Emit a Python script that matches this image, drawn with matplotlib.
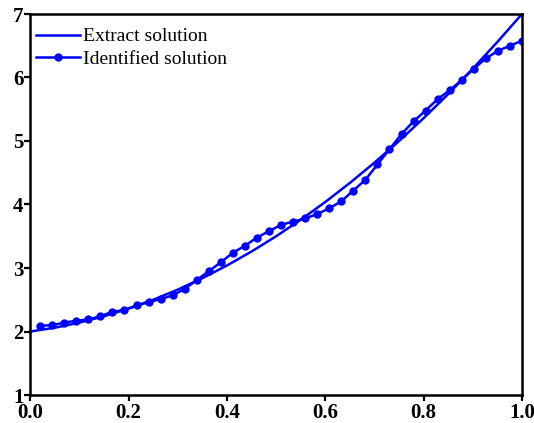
import matplotlib
matplotlib.use("Agg")
import matplotlib.pyplot as plt
import numpy as np

# exact solution, read at 0.05 steps
x_exact = [0.00, 0.05, 0.10, 0.15, 0.20, 0.25, 0.30, 0.35, 0.40, 0.45, 0.50,
           0.55, 0.60, 0.65, 0.70, 0.75, 0.80, 0.85, 0.90, 0.95, 1.00]
y_exact = [2.00, 2.06, 2.14, 2.24, 2.36, 2.50, 2.66, 2.84, 3.04, 3.26, 3.50,
           3.76, 4.04, 4.34, 4.66, 5.00, 5.36, 5.74, 6.14, 6.56, 7.00]

# identified solution, 41 markers from 0.02 to 1.0
x_ident = np.linspace(0.02, 1.0, 41)
y_ident = [2.09, 2.10, 2.14, 2.17, 2.19, 2.24, 2.31, 2.34, 2.41, 2.46,
           2.51, 2.57, 2.67, 2.81, 2.95, 3.09, 3.24, 3.35, 3.48, 3.58,
           3.68, 3.73, 3.78, 3.85, 3.94, 4.05, 4.22, 4.39, 4.63, 4.87,
           5.11, 5.31, 5.48, 5.66, 5.80, 5.96, 6.14, 6.30, 6.42, 6.50, 6.58]

x_ticks = [0.0, 0.2, 0.4, 0.6, 0.8, 1.0]
y_ticks = [1, 2, 3, 4, 5, 6, 7]

plt.rcParams["font.family"] = ["Liberation Serif", "DejaVu Serif"]

fig = plt.figure(figsize=(5.34, 4.23), dpi=100)
ax = fig.add_axes([30.3/534, 1-395/423, (522-30.3)/534, (395-14)/423])

ax.plot(x_exact, y_exact, color="#0000ff", lw=1.8, label="Extract solution")
ax.plot(x_ident, y_ident, color="#0000ff", lw=1.8, marker="o", ms=5,
        mec="#0000ff", mfc="#0000ff", label="Identified solution")

ax.set_xlim(0, 1); ax.set_ylim(1, 7)
ax.set_xticks(x_ticks); ax.set_yticks(y_ticks)
ax.set_xticklabels(["%.1f" % v for v in x_ticks])
ax.set_yticklabels([str(v) for v in y_ticks])
for lab in ax.get_xticklabels() + ax.get_yticklabels():
    lab.set_fontweight("bold"); lab.set_fontsize(15)
ax.tick_params(direction="out", length=4, width=1.6, top=False, right=False)
ax.tick_params(axis="x", pad=2)
ax.tick_params(axis="y", pad=1)
for s in ax.spines.values():
    s.set_linewidth(1.8)

ax.legend(loc="upper left", bbox_to_anchor=(0.0, 0.979), frameon=False,
          fontsize=14, handlelength=2.27, handletextpad=0.15,
          borderaxespad=0.0, labelspacing=0.25, borderpad=0.3)

fig.savefig("out.png", dpi=100)
